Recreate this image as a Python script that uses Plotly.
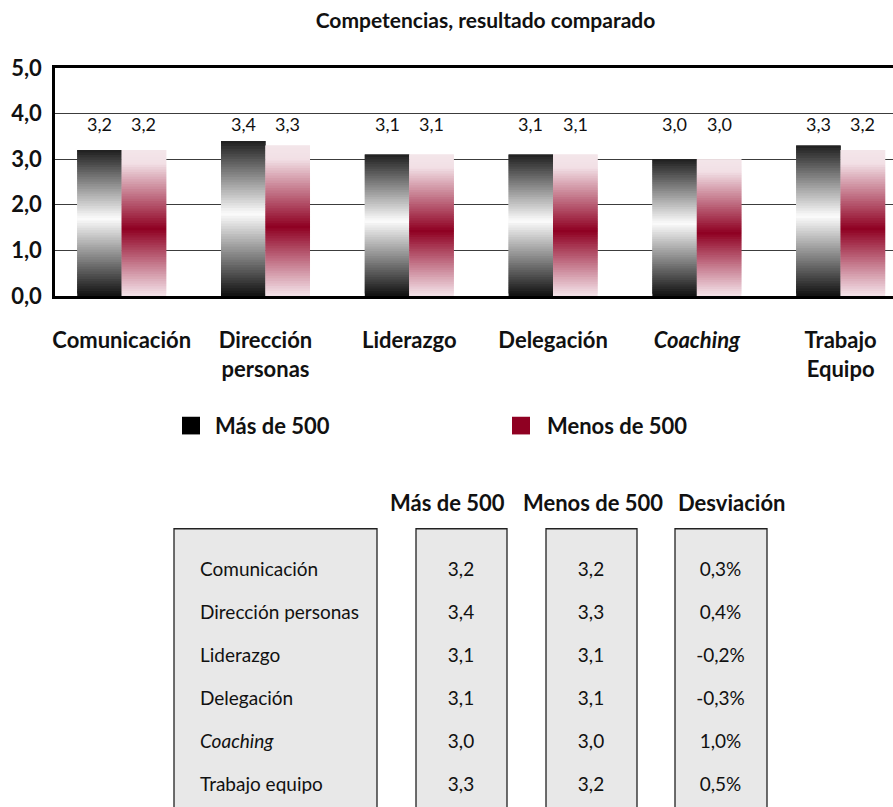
import plotly.graph_objects as go

# ---- data -------------------------------------------------------------
categories = ["Comunicación", "Dirección personas", "Liderazgo",
              "Delegación", "Coaching", "Trabajo equipo"]
axis_labels = ["Comunicación", "Dirección<br>personas", "Liderazgo",
               "Delegación", "<i>Coaching</i>", "Trabajo<br>Equipo"]
table_labels = ["Comunicación", "Dirección personas", "Liderazgo",
                "Delegación", "<i>Coaching</i>", "Trabajo equipo"]
mas_500 = [3.2, 3.4, 3.1, 3.1, 3.0, 3.3]
menos_500 = [3.2, 3.3, 3.1, 3.1, 3.0, 3.2]
desviacion = [0.3, 0.4, -0.2, -0.3, 1.0, 0.5]
series_names = ["Más de 500", "Menos de 500"]
y_ticks = [0, 1, 2, 3, 4, 5]

# ---- styling ----------------------------------------------------------
W, H = 893, 807
M_L, M_R, M_T, M_B = 55, 0, 68, 0
PW, PH = W - M_L - M_R, H - M_T - M_B
FONT = "Lato"
BLACK_SOLID = "#000000"
MAROON_SOLID = "#8f0022"
CELL_GRAY = "#e8e8e8"

# vertical colour ramps (t = 0 at the bar foot, t = 1 at its top)
BLACK_RAMP = [(0.0, (16, 16, 16)), (0.53, (252, 252, 252)), (1.0, (30, 30, 30))]
MAROON_RAMP = [(0.0, (244, 228, 233)), (0.06, (232, 200, 210)),
               (0.46, (143, 0, 34)), (0.91, (242, 224, 230)), (1.0, (243, 229, 233))]
RAMPS = [BLACK_RAMP, MAROON_RAMP]
SOLIDS = [BLACK_SOLID, MAROON_SOLID]
N_SEG = 60


def ramp_color(ramp, t):
    for (t0, c0), (t1, c1) in zip(ramp[:-1], ramp[1:]):
        if t0 <= t <= t1:
            f = (t - t0) / (t1 - t0) if t1 > t0 else 0
            c = [round(a + (b - a) * f) for a, b in zip(c0, c1)]
            return "rgb({},{},{})".format(*c)
    return "rgb({},{},{})".format(*ramp[-1][1])


def px_x(px):
    return (px - M_L) / PW


def px_y(py):
    return (H - M_B - py) / PH


def fmt(v):
    return f"{v:.1f}".replace(".", ",")


fig = go.Figure()

# gradient bars: each bar is a stack of slices sharing one offset group;
# every slice reaches into the next one so no seams show between them
for s, values in enumerate([mas_500, menos_500]):
    for k in range(N_SEG):
        reach = min(k + 2, N_SEG) - k
        fig.add_trace(go.Bar(
            x=categories,
            y=[v * reach / N_SEG for v in values],
            base=[v * k / N_SEG for v in values],
            offsetgroup=str(s),
            marker=dict(color=ramp_color(RAMPS[s], (k + 0.5) / N_SEG),
                        line=dict(width=0)),
            showlegend=False,
            hoverinfo="skip",
        ))

X_RANGE = [-0.464, 5.364]
BARGAP = 0.381
px_per_cat = PW / (X_RANGE[1] - X_RANGE[0])
bar_px = px_per_cat * (1 - BARGAP) / 2
LABEL_ROW = 3.77

annotations = []
for s, values in enumerate([mas_500, menos_500]):
    shift = (-0.5 if s == 0 else 0.5) * bar_px
    for cat, v in zip(categories, values):
        annotations.append(dict(
            x=cat, y=LABEL_ROW, xref="x", yref="y", text=fmt(v),
            showarrow=False, xshift=shift, yanchor="middle",
            font=dict(family=FONT, size=18, color="#111"),
        ))

# legend drawn as swatches + labels
legend_items = [(182, 213), (512, 545)]
shapes = []
for (sx, tx), name, col in zip(legend_items, series_names, SOLIDS):
    shapes.append(dict(type="rect", xref="paper", yref="paper",
                       x0=px_x(sx), x1=px_x(sx + 18), y0=px_y(441), y1=px_y(423),
                       fillcolor=col, line=dict(width=0)))
    annotations.append(dict(x=px_x(tx), y=px_y(432), xref="paper", yref="paper",
                            text=f"<b>{name}</b>", showarrow=False,
                            xanchor="left", yanchor="middle",
                            font=dict(family=FONT, size=22, color="#111")))

# summary table: four separate boxed columns
box_cols = [(174, 377), (416, 507), (546, 637), (675, 767)]
BOX_TOP = 537
for x0, x1 in box_cols:
    shapes.append(dict(type="rect", xref="paper", yref="paper", layer="below",
                       x0=px_x(x0), x1=px_x(x1), y0=-0.02, y1=px_y(BOX_TOP),
                       fillcolor=CELL_GRAY, line=dict(width=0)))
    shapes.append(dict(type="rect", xref="paper", yref="paper",
                       x0=px_x(x0), x1=px_x(x1), y0=-0.02, y1=px_y(BOX_TOP),
                       fillcolor="rgba(0,0,0,0)", line=dict(color="#222", width=1.3)))

heading_centers = [447.5, 593, 731]
for cx, head in zip(heading_centers, series_names + ["Desviación"]):
    annotations.append(dict(x=px_x(cx), y=px_y(510), xref="paper", yref="paper",
                            text=f"<b>{head}</b>", showarrow=False,
                            xanchor="center", yanchor="middle",
                            font=dict(family=FONT, size=22, color="#111")))

# every row label goes through the same rich-text path so the rows line up
columns = [
    [f"<span>{lbl}</span>" for lbl in table_labels],
    [fmt(v) for v in mas_500],
    [fmt(v) for v in menos_500],
    [f"{v:.1f}%".replace(".", ",") for v in desviacion],
]
for i, ((x0, x1), col) in enumerate(zip(box_cols, columns)):
    left = x0 + 18 if i == 0 else x0
    fig.add_trace(go.Table(
        domain=dict(x=[px_x(left), px_x(x1)], y=[0, px_y(BOX_TOP)]),
        columnwidth=[1],
        header=dict(values=[""], height=20 if i == 0 else 25,
                    fill_color="rgba(0,0,0,0)", line_color="rgba(0,0,0,0)"),
        cells=dict(values=[col], height=43,
                   align="left" if i == 0 else "center",
                   fill_color="rgba(0,0,0,0)", line_color="rgba(0,0,0,0)",
                   font=dict(family=FONT, size=19, color="#111")),
    ))

fig.update_layout(
    width=W, height=H,
    margin=dict(l=M_L, r=M_R, t=M_T, b=M_B),
    paper_bgcolor="white", plot_bgcolor="white",
    separators=",.",
    barmode="group", bargap=BARGAP, bargroupgap=0,
    showlegend=False,
    title=dict(text="<b>Competencias, resultado comparado</b>",
               x=485.5 / W, xref="container", xanchor="center",
               y=1 - 21 / H, yref="container", yanchor="middle",
               font=dict(family=FONT, size=21, color="#111")),
    xaxis=dict(type="category", categoryorder="array", categoryarray=categories,
               tickmode="array", tickvals=categories, ticktext=axis_labels,
               range=X_RANGE, showgrid=False, zeroline=False,
               showline=True, linecolor="black", linewidth=3, mirror=True,
               ticks="", ticklabelstandoff=23,
               tickfont=dict(family=FONT, size=22, color="#111", weight="bold")),
    yaxis=dict(range=[0, 5], domain=[px_y(300), 1], tickvals=y_ticks,
               tickformat=".1f", showgrid=True, gridcolor="#3c3c3c", gridwidth=1,
               zeroline=False, showline=True, linecolor="black", linewidth=2.5,
               ticks="", ticklabelstandoff=6,
               tickfont=dict(family=FONT, size=22, color="#111", weight="bold")),
    annotations=annotations,
    shapes=shapes,
    font=dict(family=FONT, color="#111"),
)

fig.write_html("out.html")
